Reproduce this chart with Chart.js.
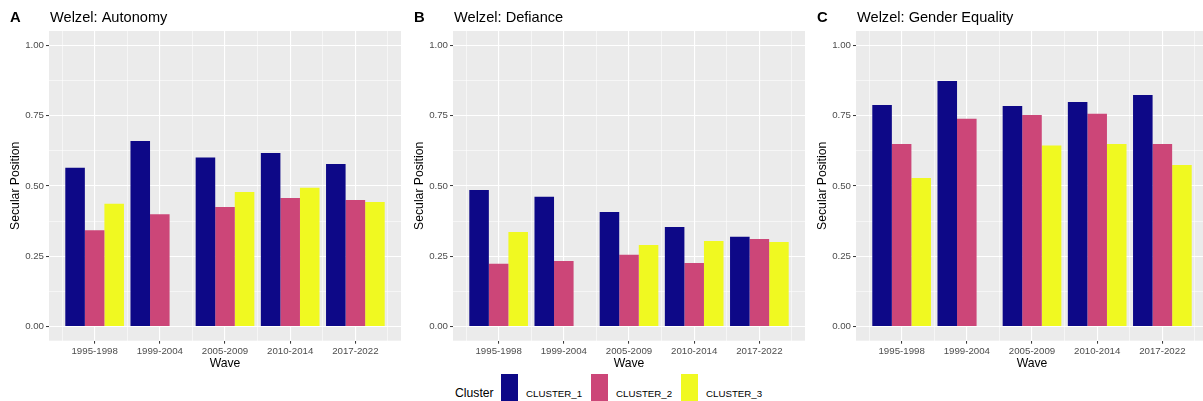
<!DOCTYPE html>
<html>
<head>
<meta charset="utf-8">
<script src="https://cdn.jsdelivr.net/npm/chart.js@4.4.0/dist/chart.umd.min.js"></script>
<style>
  body { margin: 0; width: 1203px; height: 401px; overflow: hidden; background: #fff; position: relative;
         font-family: "Liberation Sans", Arial, Helvetica, sans-serif; }
  canvas { position: absolute; top: 0; }
  #legend { position: absolute; left: 455px; top: 374px; height: 38px; display: flex; align-items: center; }
  #legend .ttl { font-size: 12.2px; color: #000; margin-right: 7px; }
  #legend .key { width: 17.5px; height: 38px; margin-right: 8px; }
  #legend .lbl { font-size: 9.7px; color: #000; margin-right: 8.5px; }
</style>
</head>
<body>
<canvas id="panelA" width="401" height="372" style="left:0px"></canvas>
<canvas id="panelB" width="401" height="372" style="left:404px"></canvas>
<canvas id="panelC" width="401" height="372" style="left:807px"></canvas>
<div id="legend"></div>
<script>
const waves = ['1995-1998', '1999-2004', '2005-2009', '2010-2014', '2017-2022'];
const clusters = ['CLUSTER_1', 'CLUSTER_2', 'CLUSTER_3'];
const clusterColors = ['#0D0887', '#CC4678', '#F0F921'];
const yTickValues = [0, 0.25, 0.5, 0.75, 1];

// values per panel, one array per cluster (null = no bar)
const autonomyC1 = [0.564, 0.659, 0.601, 0.617, 0.578];
const autonomyC2 = [0.342, 0.399, 0.425, 0.457, 0.450];
const autonomyC3 = [0.436, null, 0.478, 0.493, 0.443];

const defianceC1 = [0.485, 0.461, 0.407, 0.354, 0.319];
const defianceC2 = [0.223, 0.233, 0.255, 0.226, 0.311];
const defianceC3 = [0.336, null, 0.290, 0.304, 0.301];

const genderC1 = [0.787, 0.872, 0.784, 0.798, 0.823];
const genderC2 = [0.649, 0.738, 0.752, 0.756, 0.649];
const genderC3 = [0.528, null, 0.643, 0.649, 0.574];

const panels = [
    { id: 'panelA', tag: 'A', title: 'Welzel: Autonomy', series: [autonomyC1, autonomyC2, autonomyC3] },
    { id: 'panelB', tag: 'B', title: 'Welzel: Defiance', series: [defianceC1, defianceC2, defianceC3] },
    { id: 'panelC', tag: 'C', title: 'Welzel: Gender Equality', series: [genderC1, genderC2, genderC3] },
];

const FONT = '"Liberation Sans", Arial, Helvetica, sans-serif';
const isMajorX = v => Math.abs(v - Math.round(v)) < 1e-6;
const isMajorY = v => yTickValues.some(t => Math.abs(t - v) < 1e-6);

// grey panel behind the grid
const panelBackground = {
    id: 'panelBackground',
    beforeDraw(chart) {
        const { ctx, chartArea: a } = chart;
        ctx.save();
        ctx.fillStyle = '#EBEBEB';
        ctx.fillRect(a.left, a.top, a.width, a.height);
        ctx.restore();
    }
};

// panel tag (A/B/C) and title above the panel
const panelTitle = {
    id: 'panelTitle',
    afterDraw(chart, args, opts) {
        const { ctx, chartArea: a } = chart;
        ctx.save();
        ctx.fillStyle = '#000';
        ctx.textBaseline = 'alphabetic';
        ctx.font = 'bold 14.8px ' + FONT;
        ctx.fillText(opts.tag, 10, 22);
        ctx.font = '14.6px ' + FONT;
        ctx.fillText(opts.text, a.left + 1, 22);
        ctx.restore();
    }
};

const drawPanel = (p) => {
    const datasets = clusters.map((name, k) => ({
        label: name,
        data: p.series[k].map((v, i) => ({ x: i + 1, y: v })),
        backgroundColor: clusterColors[k],
        borderWidth: 0,
        // the minor ticks sit half a wave apart, so 1.8 here = 90% of one wave
        categoryPercentage: 1.8,
        barPercentage: 1.0,
    }));

    new Chart(document.getElementById(p.id), {
        type: 'bar',
        data: { datasets },
        options: {
            responsive: false,
            animation: false,
            layout: { padding: { top: 31, left: 0, right: 0, bottom: 0 } },
            plugins: {
                legend: { display: false },
                tooltip: { enabled: false },
                panelTitle: { tag: p.tag, text: p.title },
            },
            scales: {
                x: {
                    type: 'linear',
                    min: 0.3,
                    max: 5.7,
                    offset: false,
                    border: { display: false },
                    grid: {
                        offset: false,
                        color: '#FFFFFF',
                        lineWidth: c => isMajorX(c.tick.value) ? 1.1 : 0.55,
                        tickColor: c => isMajorX(c.tick.value) ? '#333333' : 'rgba(0,0,0,0)',
                        tickWidth: 1,
                        tickLength: 3,
                    },
                    ticks: {
                        stepSize: 0.5,
                        includeBounds: false,
                        autoSkip: false,
                        maxRotation: 0,
                        padding: 2,
                        color: '#4D4D4D',
                        font: { size: 9.7, family: FONT },
                        callback: v => isMajorX(v) ? waves[Math.round(v) - 1] : '',
                    },
                    title: {
                        display: true,
                        text: 'Wave',
                        color: '#000',
                        font: { size: 12.2, family: FONT },
                        padding: { top: 0, bottom: 1 },
                    },
                    afterFit: s => { s.height = 31.3; },
                },
                y: {
                    min: -0.05,
                    max: 1.05,
                    border: { display: false },
                    grid: {
                        color: '#FFFFFF',
                        lineWidth: c => isMajorY(c.tick.value) ? 1.1 : 0.55,
                        tickColor: c => isMajorY(c.tick.value) ? '#333333' : 'rgba(0,0,0,0)',
                        tickWidth: 1,
                        tickLength: 3,
                    },
                    ticks: {
                        stepSize: 0.125,
                        includeBounds: false,
                        autoSkip: false,
                        padding: 2,
                        color: '#4D4D4D',
                        font: { size: 9.7, family: FONT },
                        callback: v => isMajorY(v) ? v.toFixed(2) : '',
                    },
                    title: {
                        display: true,
                        text: 'Secular Position',
                        color: '#000',
                        font: { size: 12.2, family: FONT },
                        padding: { top: 8, bottom: 0 },
                    },
                    afterFit: s => { s.width = 49; },
                },
            },
        },
        plugins: [panelBackground, panelTitle],
    });
};

panels.forEach(drawPanel);

// shared legend at the bottom
const legend = document.getElementById('legend');
legend.innerHTML = '<span class="ttl">Cluster</span>' + clusters.map((c, k) =>
    `<span class="key" style="background:${clusterColors[k]}"></span><span class="lbl">${c}</span>`).join('');
</script>
</body>
</html>
